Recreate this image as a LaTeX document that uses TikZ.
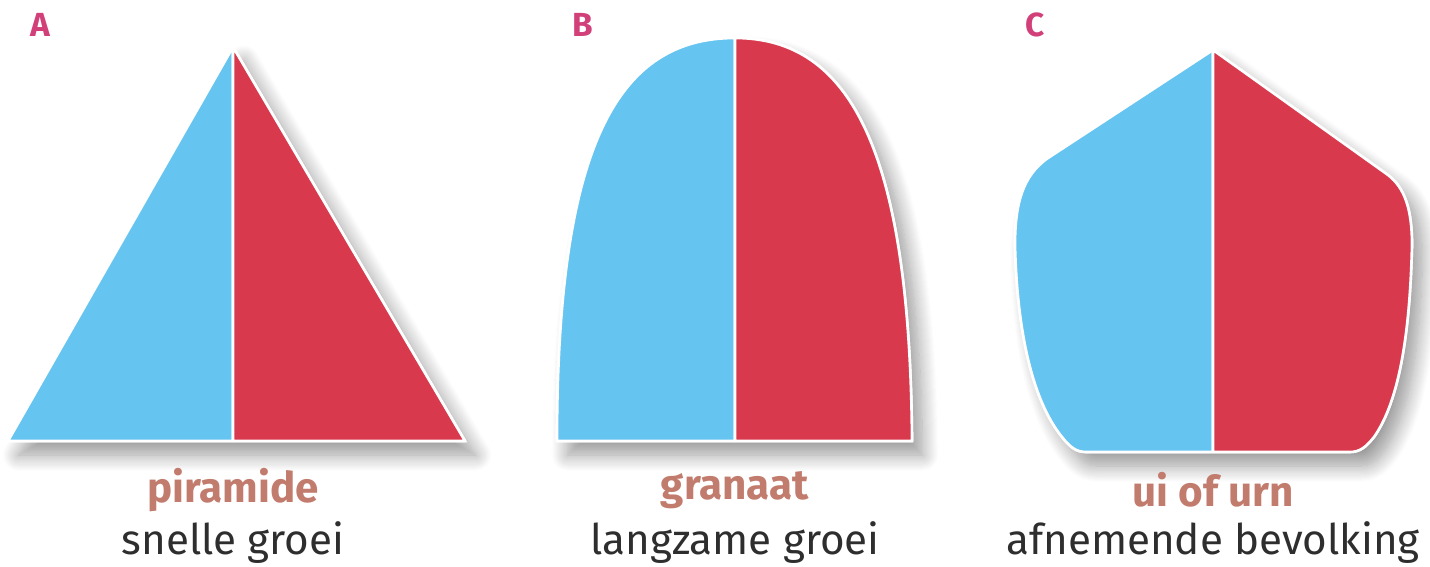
\documentclass[tikz,border=0pt]{standalone}
\usepackage{fontspec}
\setmainfont{Fira Sans}
\usepackage{tikz}
\usetikzlibrary{shadows.blur}
\definecolor{pBlue}{HTML}{66C4F0}
\definecolor{pRed}{HTML}{D8394D}
\definecolor{pMag}{HTML}{D2407A}
\definecolor{pBrown}{HTML}{C27C6E}
\definecolor{pText}{HTML}{2E2E2E}
\tikzset{
  pshadow/.style={fill=white, draw=white, line width=1.5pt,
                  blur shadow={shadow xshift=6pt, shadow yshift=-8pt,
                  shadow blur radius=9pt, shadow blur steps=16, shadow opacity=40}},
  pleft/.style={fill=pBlue, draw=white, line width=1.5pt, line join=round},
  pright/.style={fill=pRed, draw=white, line width=1.5pt, line join=round},
  pletter/.style={text=pMag, font=\bfseries\fontsize{19}{22}\selectfont},
  pname/.style={text=pBrown, font=\bfseries\fontsize{24}{28}\selectfont},
  pdesc/.style={text=pText, font=\fontsize{24}{28}\selectfont},
}

\begin{document}
\begin{tikzpicture}[x=0.02cm, y=-0.02cm]
    \useasboundingbox (0,0) rectangle (1430,567);
    % A
    \fill[pshadow] (233,47) -- (465,441) -- (8,441) -- cycle;
    \draw[pleft] (233,47) -- (233,441) -- (8,441) -- cycle;
    \draw[pright] (233,47) -- (465,441) -- (233,441) -- cycle;
    \node[pletter] (lA) at (40,25) {A};
    \node[pname] (nA) at (233,490) {piramide};
    \node[pdesc] (dA) at (233,543) {snelle groei};
    % B
    \fill[pshadow] (735,38) .. controls (620,38) and (557,140) .. (557,441)
      -- (912,441) .. controls (910,150) and (850,38) .. (735,38) -- cycle;
    \draw[pleft] (735,38) .. controls (620,38) and (557,140) .. (557,441) -- (735,441) -- cycle;
    \draw[pright] (735,38) .. controls (850,38) and (910,150) .. (912,441) -- (735,441) -- cycle;
    \node[pletter] (lB) at (583,25) {B};
    \node[pname] (nB) at (735,490) {granaat};
    \node[pdesc] (dB) at (735,543) {langzame groei};
    % C
    \fill[pshadow] (1213,50) -- (1048,158) .. controls (1022,176) and (1015,205) .. (1015,245)
      .. controls (1017,330) and (1032,400) .. (1062,437) .. controls (1070,447) and (1076,452) .. (1086,452)
      -- (1350,452) .. controls (1360,452) and (1366,447) .. (1374,437)
      .. controls (1400,400) and (1410,330) .. (1412,245) .. controls (1412,210) and (1405,188) .. (1388,175)
      -- cycle;
    \draw[pleft] (1213,50) -- (1048,158) .. controls (1022,176) and (1015,205) .. (1015,245)
      .. controls (1017,330) and (1032,400) .. (1062,437) .. controls (1070,447) and (1076,452) .. (1086,452)
      -- (1213,452) -- cycle;
    \draw[pright] (1213,50) -- (1388,175) .. controls (1405,188) and (1412,210) .. (1412,245)
      .. controls (1410,330) and (1400,400) .. (1374,437) .. controls (1366,447) and (1360,452) .. (1350,452)
      -- (1213,452) -- cycle;
    \node[pletter] (lC) at (1035,25) {C};
    \node[pname] (nC) at (1213,490) {ui of urn};
    \node[pdesc] (dC) at (1213,543) {afnemende bevolking};
\end{tikzpicture}
\end{document}
